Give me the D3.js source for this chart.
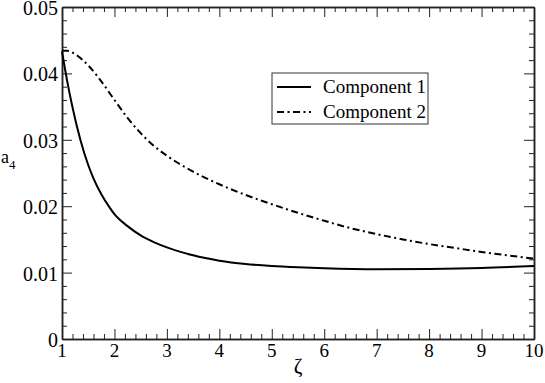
<!DOCTYPE html>
<html>
<head>
<meta charset="utf-8">
<script src="https://cdn.jsdelivr.net/npm/d3@7"></script>
<style>
  body { margin: 0; background: #fff; }
  .lbl { font-family: "Liberation Serif", "Times New Roman", serif; fill: #000; }
</style>
</head>
<body>
<script>
// values
const zeta1 = [1.0, 1.1, 1.2, 1.35, 1.5, 1.6, 1.75, 1.9, 2.0, 2.25, 2.5, 2.75, 3.0, 3.5, 4.0, 4.5, 5.0, 5.5, 6.0, 7.0, 8.0, 9.0, 10.0];
const comp1 = [0.0433, 0.0388, 0.0349, 0.0300, 0.0262, 0.0242, 0.0218, 0.0199, 0.0188, 0.0170, 0.0156, 0.0146, 0.0138, 0.0126, 0.0118, 0.0113, 0.0110, 0.0108, 0.01065, 0.0105, 0.01055, 0.0107, 0.0110];

const zeta2 = [1.0, 1.1, 1.25, 1.5, 1.75, 2.0, 2.25, 2.5, 2.75, 3.0, 3.5, 4.0, 4.5, 5.0, 5.5, 6.0, 6.5, 7.0, 7.5, 8.0, 8.5, 9.0, 9.5, 10.0];
const comp2 = [0.0434, 0.0434, 0.0429, 0.0412, 0.0388, 0.0360, 0.0333, 0.0310, 0.0291, 0.0276, 0.0252, 0.0233, 0.0217, 0.0203, 0.0190, 0.0178, 0.0167, 0.0158, 0.0150, 0.0143, 0.0137, 0.0131, 0.0126, 0.0121];

const xTicks = [1, 2, 3, 4, 5, 6, 7, 8, 9, 10];
const yTicks = [0, 0.01, 0.02, 0.03, 0.04, 0.05];
const yTickLabels = ["0", "0.01", "0.02", "0.03", "0.04", "0.05"];
const seriesNames = ["Component 1", "Component 2"];

const width = 545, height = 383;
const margin = { top: 7, right: 11, bottom: 44, left: 62 };

const svg = d3.select('body').append('svg')
  .attr('width', width)
  .attr('height', height);

const x = d3.scaleLinear().domain([1, 10]).range([margin.left, width - margin.right]);
const y = d3.scaleLinear().domain([0, 0.05]).range([height - margin.bottom, margin.top]);

const xMinor = d3.range(1, 10.001, 0.2).filter(v => Math.abs(v - Math.round(v)) > 1e-6);
const yMinor = d3.range(0, 0.0501, 0.002).filter(v => Math.abs(v * 100 - Math.round(v * 100)) > 1e-6);

function styleAxis(g) {
  g.selectAll('path.domain').attr('stroke', '#222').attr('stroke-width', 1.5);
  g.selectAll('.tick line').attr('stroke', '#222').attr('stroke-width', 1);
  g.selectAll('.tick text').remove();
}

// frame ticks: minor (5px) and major (10px), all pointing inward
[[d3.axisBottom(x), `translate(0,${y(0)})`, xMinor, xTicks],
 [d3.axisTop(x), `translate(0,${y(0.05)})`, xMinor, xTicks],
 [d3.axisLeft(y), `translate(${x(1)},0)`, yMinor, yTicks],
 [d3.axisRight(y), `translate(${x(10)},0)`, yMinor, yTicks]
].forEach(([ax, tr, minor, major]) => {
  svg.append('g').attr('transform', tr)
    .call(ax.tickValues(minor).tickSizeInner(-5).tickSizeOuter(0))
    .call(styleAxis);
  svg.append('g').attr('transform', tr)
    .call(ax.tickValues(major).tickSizeInner(-10).tickSizeOuter(0))
    .call(styleAxis);
});

// tick labels
svg.append('g').selectAll('text')
  .data(xTicks).join('text')
  .attr('class', 'lbl')
  .attr('x', d => x(d)).attr('y', y(0) + 18)
  .attr('text-anchor', 'middle').attr('font-size', 19)
  .text(d => d);

svg.append('g').selectAll('text')
  .data(yTicks).join('text')
  .attr('class', 'lbl')
  .attr('x', x(1) - 4).attr('y', d => y(d) + 8)
  .attr('text-anchor', 'end').attr('font-size', 20)
  .text((d, i) => yTickLabels[i]);

// curves
const line = d3.line().x(d => x(d[0])).y(d => y(d[1])).curve(d3.curveMonotoneX);

svg.append('path')
  .datum(d3.zip(zeta1, comp1))
  .attr('fill', 'none').attr('stroke', '#000').attr('stroke-width', 2)
  .attr('d', line);

svg.append('path')
  .datum(d3.zip(zeta2, comp2))
  .attr('fill', 'none').attr('stroke', '#000').attr('stroke-width', 2)
  .attr('stroke-dasharray', '7,3.5,2,3.5')
  .attr('d', line);

// axis labels
svg.append('text').attr('class', 'lbl')
  .attr('x', (x(1) + x(10)) / 2).attr('y', 373)
  .attr('text-anchor', 'middle').attr('font-size', 21)
  .text('ζ');

const al = svg.append('text').attr('class', 'lbl')
  .attr('x', 1).attr('y', 163).attr('font-size', 18);
al.append('tspan').text('a');
al.append('tspan').attr('font-size', 13).attr('dy', 6).text('4');

// legend
const lg = svg.append('g');
lg.append('rect')
  .attr('x', 272).attr('y', 73).attr('width', 156).attr('height', 51)
  .attr('fill', '#fff').attr('stroke', '#333').attr('stroke-width', 1);
seriesNames.forEach((name, i) => {
  const ly = 87 + i * 25;
  lg.append('line')
    .attr('x1', 277).attr('x2', 311).attr('y1', ly).attr('y2', ly)
    .attr('stroke', '#000').attr('stroke-width', 2)
    .attr('stroke-dasharray', i === 0 ? null : '7,3.5,2,3.5');
  lg.append('text').attr('class', 'lbl')
    .attr('x', 323).attr('y', ly + 6)
    .attr('font-size', 19)
    .text(name);
});
</script>
</body>
</html>
